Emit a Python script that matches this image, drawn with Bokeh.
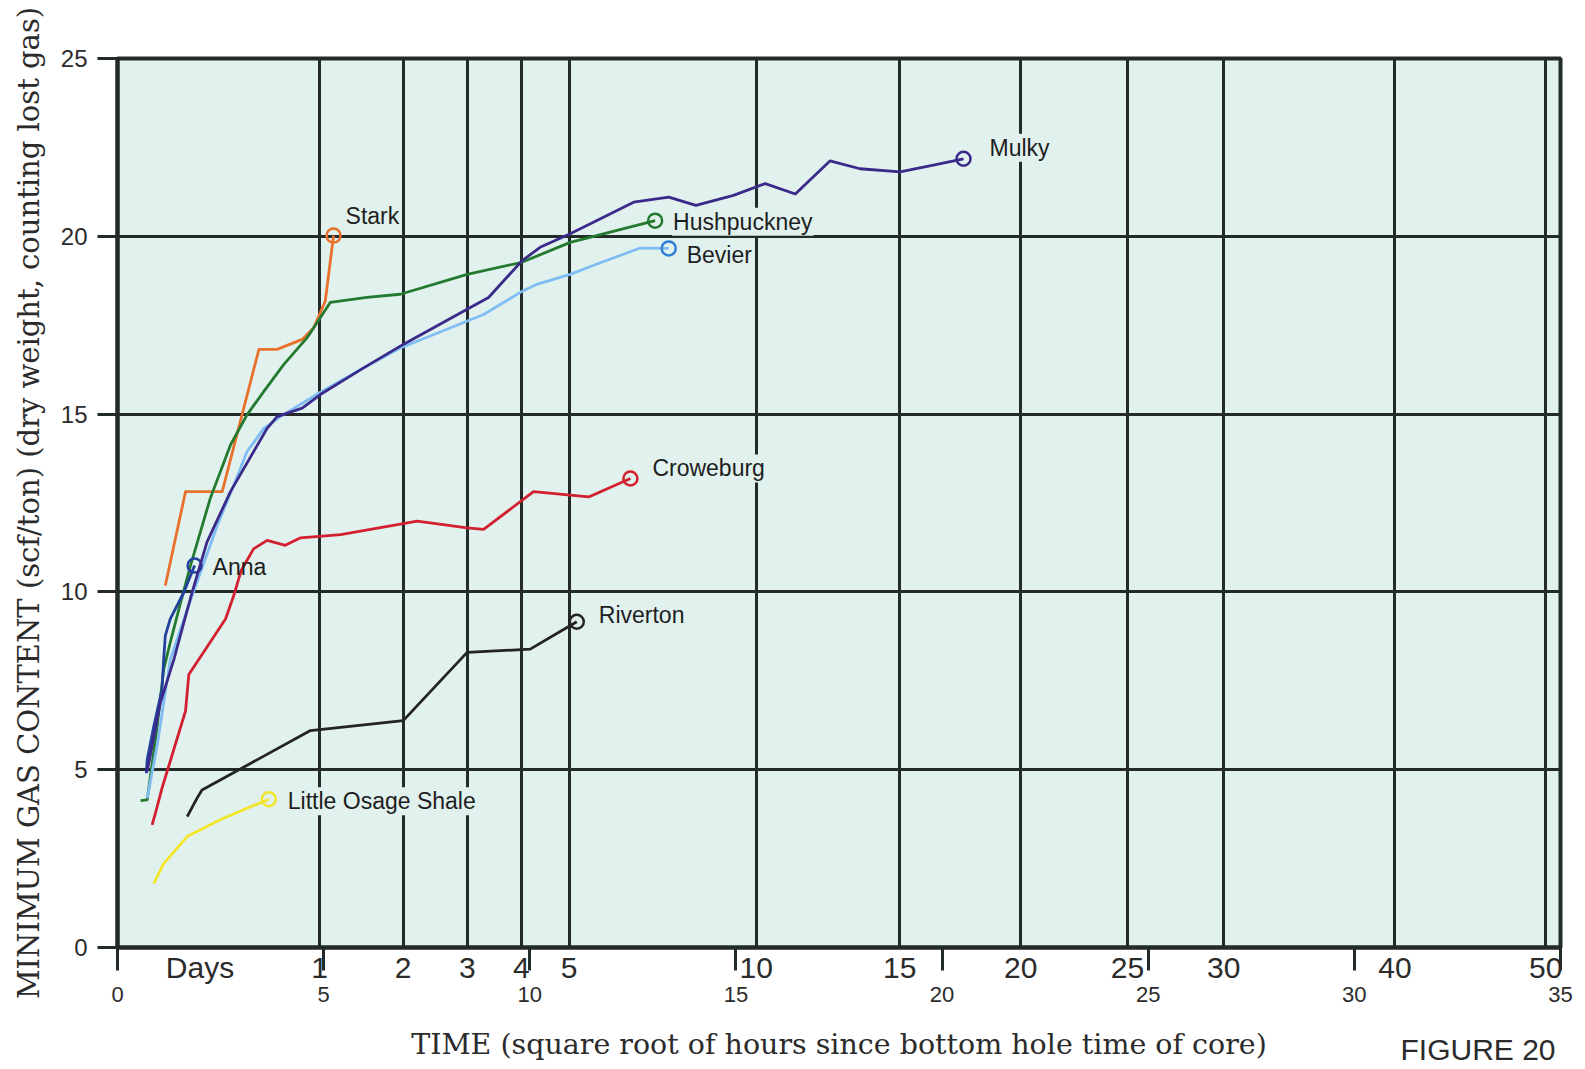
import math

from bokeh.core.properties import value
from bokeh.embed import file_html
from bokeh.models import FixedTicker, LinearAxis
from bokeh.plotting import figure
from bokeh.resources import INLINE

# ---- data: gas content (scf/ton) against square root of hours since core reached surface ----
stark_x = [1.16, 1.65, 2.54, 3.43, 3.87, 4.48, 4.76, 5.04, 5.24]
stark_y = [10.18, 12.82, 12.82, 16.82, 16.82, 17.10, 17.43, 18.18, 20.02]

hushpuckney_x = [0.56, 0.72, 0.95, 1.12, 1.28, 1.53, 1.77, 2.25, 2.74, 3.14, 3.55, 4.03,
                 4.60, 5.16, 6.05, 6.86, 8.48, 9.81, 10.98, 13.04]
hushpuckney_y = [4.13, 4.15, 6.10, 7.82, 8.58, 9.70, 10.74, 12.63, 14.13, 14.98, 15.64, 16.39,
                 17.15, 18.14, 18.28, 18.37, 18.93, 19.27, 19.83, 20.44]

bevier_x = [0.72, 0.96, 1.28, 1.81, 2.42, 2.82, 3.14, 3.55, 3.95, 4.90, 5.97, 6.86, 8.88,
            9.81, 10.17, 10.98, 11.63, 12.68, 13.37]
bevier_y = [4.20, 5.66, 8.10, 9.90, 11.87, 13.00, 13.94, 14.60, 14.93, 15.60, 16.30, 16.86, 17.80,
            18.45, 18.65, 18.93, 19.22, 19.67, 19.66]

mulky_x = [0.72, 1.04, 1.37, 1.61, 1.81, 2.17, 2.74, 3.63, 3.87, 4.48, 4.92, 5.97, 6.93, 8.48,
           9.00, 9.81, 10.25, 10.98, 12.52, 13.37, 14.03, 14.94, 15.71, 16.44, 17.28, 18.01,
           18.98, 19.79, 20.52]
mulky_y = [4.95, 6.88, 8.11, 9.14, 9.99, 11.40, 12.82, 14.60, 14.93, 15.17, 15.55, 16.30, 16.96,
           17.95, 18.28, 19.31, 19.69, 20.07, 20.96, 21.10, 20.87, 21.15, 21.48, 21.19, 22.12,
           21.90, 21.81, 22.00, 22.18]

anna_x = [0.70, 0.72, 0.88, 1.08, 1.12, 1.16, 1.28, 1.61, 1.87]
anna_y = [4.90, 5.28, 6.22, 7.26, 8.11, 8.77, 9.24, 9.99, 10.74]

croweburg_x = [0.84, 0.92, 1.08, 1.24, 1.65, 1.73, 2.62, 2.82, 3.00, 3.30, 3.63, 4.07, 4.44,
               5.41, 6.93, 7.27, 8.48, 8.88, 10.09, 11.43, 12.44]
croweburg_y = [3.45, 3.78, 4.48, 5.09, 6.65, 7.68, 9.24, 9.90, 10.60, 11.21, 11.45, 11.31, 11.52,
               11.61, 11.92, 11.99, 11.80, 11.76, 12.82, 12.67, 13.19]

riverton_x = [1.69, 1.93, 2.05, 4.68, 6.93, 8.48, 10.01, 11.14]
riverton_y = [3.68, 4.20, 4.43, 6.10, 6.38, 8.30, 8.39, 9.16]

little_osage_x = [0.88, 1.12, 1.69, 2.50, 3.67]
little_osage_y = [1.80, 2.36, 3.12, 3.60, 4.17]

# ---- axis tick values ----
day_values = [1, 2, 3, 4, 5, 10, 15, 20, 25, 30, 40, 50]
day_labels = ["1", "2", "3", "4", "5", "10", "15", "20", "25", "30", "40", "50"]
hour_root_ticks = [0, 5, 10, 15, 20, 25, 30, 35]
gas_ticks = [0, 5, 10, 15, 20, 25]

# ---- styling ----
BG = "#e1f1ee"
INK = "#222b28"
TXT = "#2b2b2b"
SANS = "Liberation Sans"
SERIF = "DejaVu Serif"

# name, x, y, line colour, marker colour, label offset (px), label has backing
series = [
    ("Little Osage Shale", little_osage_x, little_osage_y, "#f2e52a", "#f2e52a", (18, 2), True),
    ("Riverton", riverton_x, riverton_y, "#232323", "#232323", (21, -7), True),
    ("Croweburg", croweburg_x, croweburg_y, "#d3202f", "#d3202f", (21, -10), True),
    ("Stark", stark_x, stark_y, "#e8712c", "#e8712c", (11, -20), True),
    ("Hushpuckney", hushpuckney_x, hushpuckney_y, "#237a2f", "#237a2f", (17, 1), True),
    ("Bevier", bevier_x, bevier_y, "#80bdf2", "#2f7fd6", (17, 7), True),
    ("Anna", anna_x, anna_y, "#23409e", "#23409e", (18, 1), False),
    ("Mulky", mulky_x, mulky_y, "#3b2a8a", "#3b2a8a", (25, -11), True),
]

p = figure(
    width=1585, height=1069,
    x_range=(0, 35), y_range=(0, 25),
    output_backend="svg", toolbar_location=None,
    min_border_left=117, min_border_right=25, min_border_top=58, min_border_bottom=122,
    background_fill_color=BG, border_fill_color="white",
)
p.outline_line_color = INK
p.outline_line_width = 4

# grid: vertical lines at whole days, horizontal every 5 scf/ton
day_pos = [round(math.sqrt(24 * d), 4) for d in day_values]
p.xgrid.ticker = FixedTicker(ticks=day_pos)
p.ygrid.ticker = FixedTicker(ticks=gas_ticks[1:-1])
for g in (p.xgrid[0], p.ygrid[0]):
    g.grid_line_color = INK
    g.grid_line_width = 3
    g.grid_line_alpha = 1.0

# y axis
ya = p.yaxis[0]
ya.ticker = FixedTicker(ticks=gas_ticks)
ya.major_tick_out = 20
ya.major_tick_in = 0
ya.minor_tick_out = 0
ya.minor_tick_in = 0
ya.major_tick_line_width = 3
ya.major_tick_line_color = INK
ya.axis_line_width = 4
ya.axis_line_color = INK
ya.major_label_text_font = SANS
ya.major_label_text_font_size = "24px"
ya.major_label_text_color = TXT
ya.major_label_standoff = 10
ya.axis_label = "MINIMUM GAS CONTENT (scf/ton) (dry weight, counting lost gas)"
ya.axis_label_text_font = SERIF
ya.axis_label_text_font_style = "normal"
ya.axis_label_text_font_size = "29px"
ya.axis_label_text_color = TXT
ya.axis_label_standoff = 12

# x axis, first row: day labels, with square-root-hour tick marks as minor ticks
xa = p.xaxis[0]
xa.ticker = FixedTicker(ticks=[2.0] + day_pos, minor_ticks=hour_root_ticks)
overrides = {2.0: "Days"}
for pos, lab in zip(day_pos, day_labels):
    overrides[pos] = lab
xa.major_label_overrides = overrides
xa.major_tick_out = 0
xa.major_tick_in = 0
xa.minor_tick_out = 23
xa.minor_tick_in = 0
xa.minor_tick_line_width = 3
xa.minor_tick_line_color = INK
xa.axis_line_width = 4
xa.axis_line_color = INK
xa.major_label_text_font = SANS
xa.major_label_text_font_size = "30px"
xa.major_label_text_color = TXT
xa.major_label_standoff = -20

# x axis, second row: square root of hours
xa2 = LinearAxis(ticker=FixedTicker(ticks=hour_root_ticks))
xa2.major_tick_out = 0
xa2.major_tick_in = 0
xa2.minor_tick_out = 0
xa2.minor_tick_in = 0
xa2.axis_line_color = None
xa2.major_label_text_font = SANS
xa2.major_label_text_font_size = "22px"
xa2.major_label_text_color = TXT
xa2.major_label_standoff = 0
xa2.axis_label = "TIME (square root of hours since bottom hole time of core)"
xa2.axis_label_text_font = SERIF
xa2.axis_label_text_font_style = "normal"
xa2.axis_label_text_font_size = "28.5px"
xa2.axis_label_text_color = TXT
xa2.axis_label_standoff = 23
p.add_layout(xa2, "below")

# figure number, set in the bottom-right corner under the axis
fig_x = 33.0
xa3 = LinearAxis(ticker=FixedTicker(ticks=[fig_x]))
xa3.major_label_overrides = {fig_x: "FIGURE 20"}
xa3.major_tick_out = 0
xa3.major_tick_in = 0
xa3.minor_tick_out = 0
xa3.minor_tick_in = 0
xa3.axis_line_color = None
xa3.major_label_text_font = SANS
xa3.major_label_text_font_size = "30px"
xa3.major_label_text_color = TXT
xa3.major_label_standoff = -31
p.add_layout(xa3, "below")

# curves and end markers
for name, xs, ys, lc, mc, off, backed in series:
    p.line(xs, ys, line_color=lc, line_width=2.8, line_join="round")
    p.scatter([xs[-1]], [ys[-1]], marker="circle", size=14, fill_color=None,
              line_color=mc, line_width=2.5)

for name, xs, ys, lc, mc, off, backed in series:
    kw = dict(background_fill_color=BG, padding=1) if backed else {}
    p.text([xs[-1]], [ys[-1]], text=[name], x_offset=off[0], y_offset=off[1],
           text_align="left", text_baseline="middle",
           text_font=value(SANS), text_font_size="23px", text_color="#1e1e1e", **kw)

open("out.html", "w").write(file_html(p, INLINE))
